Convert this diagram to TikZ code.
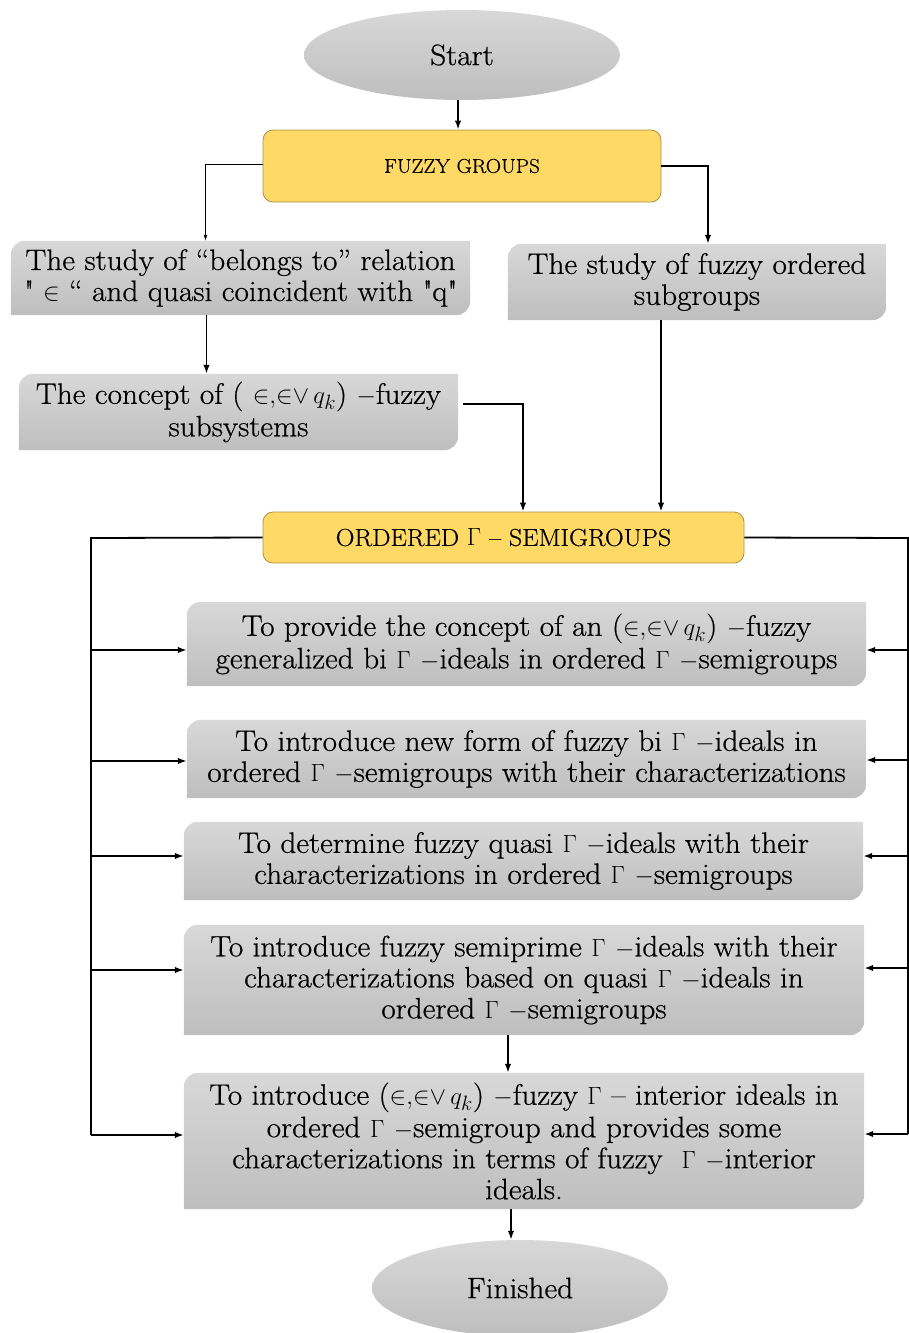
\documentclass[tikz,border=0pt]{standalone}
\usepackage{fontspec}
\setmainfont{Latin Modern Roman}[FakeBold=0.6,FakeStretch=1.06]
\usetikzlibrary{shapes.geometric,arrows.meta,backgrounds,calc}
\definecolor{gtop}{RGB}{216,216,216}
\definecolor{gbot}{RGB}{190,190,190}
\definecolor{ylw}{RGB}{255,217,102}
\definecolor{ylwline}{RGB}{170,145,70}
\newcommand\gshape[1]{%
\begin{pgfonlayer}{background}
\shade[top color=gtop,bottom color=gbot] (#1.south west) -- ([yshift=-14pt]#1.north west) arc[start angle=180,end angle=90,radius=14pt] -- (#1.north east) -- ([yshift=14pt]#1.south east) arc[start angle=0,end angle=-90,radius=14pt] -- cycle;
\end{pgfonlayer}}
\newcommand\sq{\XeTeXglyph\XeTeXcharglyph"22\relax}
\newcommand\mexp{${\in}{,}{\in}{\vee}\,q_k$}
\tikzset{
  gbox/.style={inner sep=0pt,align=center,font=\fontsize{29.5}{31}\selectfont},
  ybox/.style={draw=ylwline,line width=0.8pt,fill=ylw,rounded corners=10pt,inner sep=0pt,align=center},
  oval/.style={ellipse,top color=gtop,bottom color=gbot,draw=none,inner sep=0pt,font=\fontsize{29.5}{31}\selectfont},
  arr/.style={line width=1.8pt,-{Latex[length=9pt,width=6.5pt]}},
  thinarr/.style={line width=0.9pt,-{Latex[length=6pt,width=4pt]}},
  ln/.style={line width=1.8pt}
}
\begin{document}
\begin{tikzpicture}[x=1pt,y=1pt]
\useasboundingbox (0,0) rectangle (909,-1333);
% nodes
\node[oval,minimum width=316pt,minimum height=90pt] (start) at (462,-55) {Start};
\node[ybox,minimum width=398pt,minimum height=72pt,font=\fontsize{20}{24}\selectfont] (fg) at (462,-166) {FUZZY GROUPS};
\node[gbox,minimum width=459pt,minimum height=74pt] (b1) at (240.5,-278) {The study of “belongs to” relation\\\sq{} $\in$ “ and quasi coincident with \sq{}q\sq{}};
\node[gbox,minimum width=378pt,minimum height=76pt] (b2) at (697,-282) {The study of fuzzy ordered\\subgroups};
\node[gbox,minimum width=439pt,minimum height=76pt] (b3) at (238.5,-412) {The concept of ( \mexp) $-$fuzzy\\[1.5pt]subsystems};
\node[ybox,minimum width=481pt,minimum height=51pt,font=\fontsize{24.5}{27}\selectfont] (og) at (503.5,-537.5) {ORDERED $\Gamma$ -- SEMIGROUPS};
\node[gbox,minimum width=679pt,minimum height=84pt] (A) at (526.5,-644) {To provide the concept of an (\mexp) $-$fuzzy\\[1.5pt]generalized bi $\Gamma$ $-$ideals in ordered $\Gamma$ $-$semigroups};
\node[gbox,minimum width=679pt,minimum height=78pt] (B) at (526.5,-759) {To introduce new form of fuzzy bi $\Gamma$ $-$ideals in\\ordered $\Gamma$ $-$semigroups with their characterizations};
\node[gbox,minimum width=679pt,minimum height=78pt] (C) at (523.5,-861) {To determine fuzzy quasi $\Gamma$ $-$ideals with their\\characterizations in ordered $\Gamma$ $-$semigroups};
\node[gbox,minimum width=680pt,minimum height=110pt] (D) at (524,-980) {To introduce fuzzy semiprime $\Gamma$ $-$ideals with their\\characterizations based on quasi $\Gamma$ $-$ideals in\\ordered $\Gamma$ $-$semigroups};
\node[gbox,minimum width=680pt,minimum height=136pt] (E) at (524,-1141) {To introduce (\mexp) $-$fuzzy $\Gamma$ -- interior ideals in\\[1.5pt]ordered $\Gamma$ $-$semigroup and provides some\\characterizations in terms of fuzzy~ $\Gamma$ $-$interior\\ideals.};
\node[oval,minimum width=296pt,minimum height=96pt] (fin) at (520,-1288) {Finished};
\gshape{b1}\gshape{b2}\gshape{b3}\gshape{A}\gshape{B}\gshape{C}\gshape{D}\gshape{E}
% trunk coordinates and arrow levels
\coordinate (L) at (91,-538);
\coordinate (R) at (908,-538);
\coordinate (lA) at ([yshift=-6]A.west);
\coordinate (lB) at ([yshift=-2]B.west);
\coordinate (lC) at ([yshift=5]C.west);
\coordinate (lD) at ([yshift=10]D.west);
\coordinate (lE) at ([yshift=6]E.west);
\coordinate (rA) at ([yshift=-6]A.east);
\coordinate (rB) at ([yshift=-1]B.east);
\coordinate (rC) at ([yshift=5]C.east);
\coordinate (rD) at ([yshift=12]D.east);
\coordinate (rE) at ([yshift=7]E.east);
% connectors
\draw[arr] ([xshift=-4]start.south) -- ([xshift=-4]start.south |- fg.north);
\draw[thinarr] ([yshift=2]fg.west) -| ([xshift=-35]b1.north);
\draw[arr] (fg.east) -| ([xshift=11]b2.north);
\draw[arr] ([xshift=-34]b1.south) -- ([xshift=-34]b1.south |- b3.north);
\draw[arr] ([shift={(5,8)}]b3.east) -| ([xshift=19.5]og.north);
\draw[arr] ([xshift=-36]b2.south) -- ([xshift=-36]b2.south |- og.north);
\draw[ln] (og.west) -- (L) -- (L |- lE);
\draw[ln] (og.east) -- (R) -- (R |- rE);
\draw[arr] (L |- lA) -- (lA);
\draw[arr] (L |- lB) -- (lB);
\draw[arr] (L |- lC) -- (lC);
\draw[arr] (L |- lD) -- (lD);
\draw[arr] (L |- lE) -- (lE);
\draw[arr] (R |- rA) -- (rA);
\draw[arr] (R |- rB) -- (rB);
\draw[arr] (R |- rC) -- (rC);
\draw[arr] (R |- rD) -- (rD);
\draw[arr] (R |- rE) -- (rE);
\draw[arr] ([xshift=-16]D.south) -- ([xshift=-16]D.south |- E.north);
\draw[arr] ([xshift=-13]E.south) -- ([xshift=-13]E.south |- fin.north);
\end{tikzpicture}
\end{document}
